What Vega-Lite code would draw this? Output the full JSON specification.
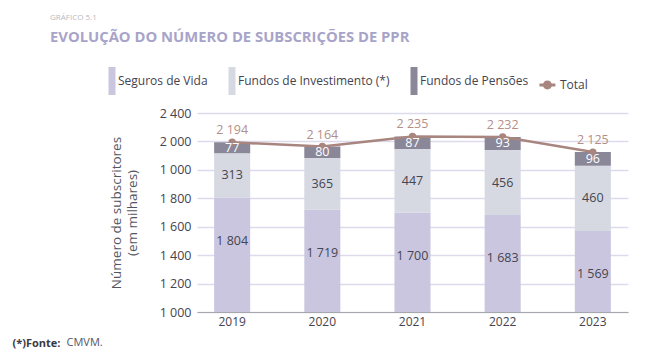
{
  "$schema": "https://vega.github.io/schema/vega-lite/v6.json",
  "autosize": {"type": "none"},
  "width": 431,
  "height": 199,
  "padding": {"left": 197, "top": 113, "right": 20, "bottom": 49},
  "background": "white",
  "title": {
    "text": "GRÁFICO 5.1",
    "subtitle": "EVOLUÇÃO DO NÚMERO DE SUBSCRIÇÕES DE PPR",
    "anchor": "start",
    "frame": "group",
    "dx": -147,
    "dy": 36,
    "offset": 58,
    "font": "Open Sans",
    "fontSize": 8,
    "fontWeight": "normal",
    "color": "#b9b9c2",
    "subtitleFont": "Open Sans",
    "subtitleFontSize": 14.8,
    "subtitleFontWeight": "bold",
    "subtitleColor": "#a8a4c9",
    "subtitlePadding": 8
  },
  "datasets": {
    "segs": [
      {"year": "2019", "serie": "Seguros de Vida", "ord": 1, "value": 1804},
      {"year": "2019", "serie": "Fundos de Investimento (*)", "ord": 2, "value": 313},
      {"year": "2019", "serie": "Fundos de Pensões", "ord": 3, "value": 77},
      {"year": "2020", "serie": "Seguros de Vida", "ord": 1, "value": 1719},
      {"year": "2020", "serie": "Fundos de Investimento (*)", "ord": 2, "value": 365},
      {"year": "2020", "serie": "Fundos de Pensões", "ord": 3, "value": 80},
      {"year": "2021", "serie": "Seguros de Vida", "ord": 1, "value": 1700},
      {"year": "2021", "serie": "Fundos de Investimento (*)", "ord": 2, "value": 447},
      {"year": "2021", "serie": "Fundos de Pensões", "ord": 3, "value": 87},
      {"year": "2022", "serie": "Seguros de Vida", "ord": 1, "value": 1683},
      {"year": "2022", "serie": "Fundos de Investimento (*)", "ord": 2, "value": 456},
      {"year": "2022", "serie": "Fundos de Pensões", "ord": 3, "value": 93},
      {"year": "2023", "serie": "Seguros de Vida", "ord": 1, "value": 1569},
      {"year": "2023", "serie": "Fundos de Investimento (*)", "ord": 2, "value": 460},
      {"year": "2023", "serie": "Fundos de Pensões", "ord": 3, "value": 96}
    ],
    "totals": [
      {"year": "2019", "serie": "Total", "total": 2194},
      {"year": "2020", "serie": "Total", "total": 2164},
      {"year": "2021", "serie": "Total", "total": 2235},
      {"year": "2022", "serie": "Total", "total": 2232},
      {"year": "2023", "serie": "Total", "total": 2125}
    ]
  },
  "resolve": {"axis": {"x": "independent"}},
  "layer": [
    {
      "data": {"name": "segs"},
      "transform": [
        {"stack": "value", "groupby": ["year"], "sort": [{"field": "ord", "order": "ascending"}], "as": ["y0", "y1"]}
      ],
      "mark": {"type": "bar", "clip": true},
      "encoding": {
        "x": {
          "field": "year", "type": "ordinal",
          "scale": {"paddingInner": 0.6, "paddingOuter": 0.19},
          "axis": {
            "orient": "bottom",
            "title": "(*)Fonte:",
            "titleX": -185,
            "titleY": 34,
            "titleAlign": "left",
            "titleAnchor": "start",
            "titleBaseline": "alphabetic",
            "titleFont": "Open Sans",
            "titleFontSize": 11,
            "titleFontWeight": "bold",
            "titleColor": "#3a3a44",
            "labelAngle": 0,
            "labelFont": "Open Sans",
            "labelFontSize": 12,
            "labelColor": "#444450",
            "labelPadding": 4,
            "ticks": false,
            "domainColor": "#a6a6ad",
            "domainWidth": 1.2,
            "grid": false
          }
        },
        "y": {
          "field": "y1", "type": "quantitative",
          "scale": {"domain": [1000, 2400], "nice": false, "zero": false},
          "axis": {
            "values": [1000, 1200, 1400, 1600, 1800, 2000, 2200, 2400],
            "tickCount": 8,
            "labelExpr": "datum.value == 2200 ? '2 000' : datum.value == 2000 ? '1 000' : datum.label",
            "format": ",d",
            "labelOverlap": false,
            "title": ["Número de subscritores", "(em milhares)"],
            "titleFont": "Open Sans",
            "titleFontSize": 13.5,
            "titleFontWeight": "normal",
            "titleColor": "#55555f",
            "titlePadding": 20,
            "titleLineHeight": 16,
            "labelFont": "Open Sans",
            "labelFontSize": 12.5,
            "labelColor": "#444450",
            "labelPadding": 6,
            "ticks": false,
            "domain": false,
            "grid": true,
            "gridColor": "#dddaeb",
            "gridWidth": 1.5
          }
        },
        "y2": {"field": "y0"},
        "color": {
          "field": "serie", "type": "nominal",
          "scale": {
            "domain": ["Seguros de Vida", "Fundos de Investimento (*)", "Fundos de Pensões", "Total"],
            "range": ["#cac6e0", "#d6d9e2", "#8a8799", "#a8857f"]
          },
          "legend": {
            "orient": "none",
            "legendX": -99,
            "legendY": -46,
            "direction": "horizontal",
            "title": null,
            "padding": 0,
            "symbolType": "M-0.25,-1H0.25V1H-0.25Z",
            "symbolSize": 784,
            "symbolStrokeWidth": 0,
            "symbolOpacity": 1,
            "labelFont": "Open Sans",
            "labelFontSize": 12,
            "labelColor": "#444450",
            "labelOffset": -8,
            "columnPadding": 10
          }
        },
        "order": {"field": "ord"}
      }
    },
    {
      "data": {"name": "totals"},
      "mark": {"type": "line", "strokeWidth": 2.5, "color": "#a8857f", "point": {"filled": true, "size": 55, "color": "#a8857f"}},
      "encoding": {
        "x": {
          "field": "year", "type": "ordinal",
          "scale": {"paddingInner": 0.6, "paddingOuter": 0.19},
          "axis": {
            "orient": "top",
            "title": "CMVM.",
            "titleX": -131,
            "titleY": 232.7,
            "titleAlign": "left",
            "titleAnchor": "start",
            "titleBaseline": "alphabetic",
            "titleFont": "Open Sans",
            "titleFontSize": 11,
            "titleFontWeight": "normal",
            "titleColor": "#55555f",
            "labels": false,
            "ticks": false,
            "domain": false,
            "grid": false
          }
        },
        "y": {"field": "total", "type": "quantitative", "scale": {"domain": [1000, 2400], "nice": false, "zero": false}}
      }
    },
    {
      "data": {"name": "totals"},
      "mark": {"type": "point", "filled": true, "opacity": 0, "size": 784},
      "encoding": {
        "x": {"field": "year", "type": "ordinal", "scale": {"paddingInner": 0.6, "paddingOuter": 0.19}, "axis": null},
        "y": {"field": "total", "type": "quantitative", "scale": {"domain": [1000, 2400], "nice": false, "zero": false}},
        "color": {
          "field": "serie", "type": "nominal",
          "scale": {
            "domain": ["Seguros de Vida", "Fundos de Investimento (*)", "Fundos de Pensões", "Total"],
            "range": ["#cac6e0", "#d6d9e2", "#8a8799", "#a8857f"]
          },
          "legend": {
            "orient": "none",
            "legendX": -99,
            "legendY": -46,
            "direction": "horizontal",
            "title": null,
            "padding": 0,
            "symbolSize": 784,
            "symbolStrokeWidth": 0,
            "symbolOpacity": 1,
            "labelFont": "Open Sans",
            "labelFontSize": 12,
            "labelColor": "#444450",
            "labelOffset": -8,
            "columnPadding": 10
          }
        },
        "shape": {
          "field": "serie", "type": "nominal",
          "scale": {
            "domain": ["Seguros de Vida", "Fundos de Investimento (*)", "Fundos de Pensões", "Total"],
            "range": [
              "M-0.25,-1H0.25V1H-0.25Z",
              "M-0.25,-1H0.25V1H-0.25Z",
              "M-0.25,-1H0.25V1H-0.25Z",
              "M-1.04,-0.1H0.1V0.1H-1.04Z M-0.79,0A0.32,0.32 0 1,1 -0.15,0A0.32,0.32 0 1,1 -0.79,0Z"
            ]
          },
          "legend": {
            "orient": "none",
            "legendX": -99,
            "legendY": -46,
            "direction": "horizontal",
            "title": null,
            "padding": 0,
            "symbolSize": 784,
            "symbolStrokeWidth": 0,
            "symbolOpacity": 1,
            "labelFont": "Open Sans",
            "labelFontSize": 12,
            "labelColor": "#444450",
            "labelOffset": -8,
            "columnPadding": 10
          }
        }
      }
    },
    {
      "data": {"name": "segs"},
      "transform": [
        {"stack": "value", "groupby": ["year"], "sort": [{"field": "ord", "order": "ascending"}], "as": ["y0", "y1"]},
        {"filter": "datum.serie != 'Seguros de Vida'"},
        {"fold": ["y0", "y1"], "as": ["k", "pos"]}
      ],
      "mark": {"type": "text", "font": "Open Sans", "fontSize": 12.5, "baseline": "middle"},
      "encoding": {
        "x": {"field": "year", "type": "ordinal", "scale": {"paddingInner": 0.6, "paddingOuter": 0.19}, "axis": null},
        "y": {"aggregate": "mean", "field": "pos", "type": "quantitative", "stack": null, "scale": {"domain": [1000, 2400], "nice": false, "zero": false}},
        "detail": {"field": "serie", "type": "nominal"},
        "text": {"aggregate": "max", "field": "value", "type": "quantitative", "format": ",d"},
        "color": {"condition": {"test": "datum.serie == 'Fundos de Pensões'", "value": "#ffffff"}, "value": "#45454f"}
      }
    },
    {
      "data": {"name": "segs"},
      "transform": [{"filter": "datum.serie == 'Seguros de Vida'"}],
      "mark": {"type": "text", "font": "Open Sans", "fontSize": 12.5, "baseline": "middle", "dy": 43, "color": "#45454f"},
      "encoding": {
        "x": {"field": "year", "type": "ordinal", "scale": {"paddingInner": 0.6, "paddingOuter": 0.19}, "axis": null},
        "y": {"field": "value", "type": "quantitative", "stack": null, "scale": {"domain": [1000, 2400], "nice": false, "zero": false}},
        "text": {"field": "value", "type": "quantitative", "format": ",d"}
      }
    },
    {
      "data": {"name": "totals"},
      "mark": {"type": "text", "font": "Open Sans", "fontSize": 12.5, "baseline": "middle", "dy": -12, "color": "#b38f88"},
      "encoding": {
        "x": {"field": "year", "type": "ordinal", "scale": {"paddingInner": 0.6, "paddingOuter": 0.19}, "axis": null},
        "y": {"field": "total", "type": "quantitative", "scale": {"domain": [1000, 2400], "nice": false, "zero": false}},
        "text": {"field": "total", "type": "quantitative", "format": ",d"}
      }
    }
  ],
  "config": {
    "view": {"stroke": null},
    "font": "Open Sans",
    "axis": {"labelOverlap": false},
    "locale": {"number": {"decimal": ",", "thousands": " ", "grouping": [3], "currency": ["", " €"]}}
  }
}
